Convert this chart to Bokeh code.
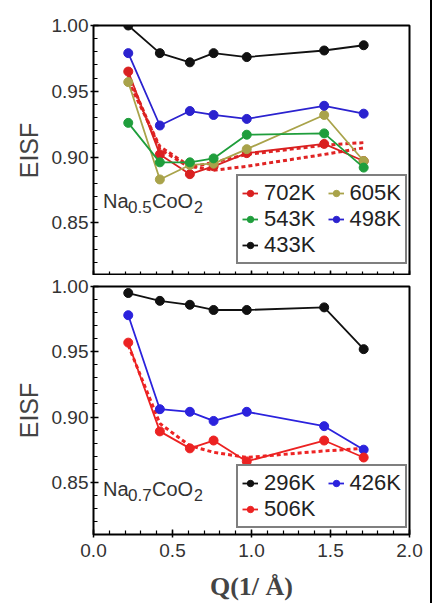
from bokeh.plotting import figure
from bokeh.layouts import column
from bokeh.models import (Legend, LegendItem, Label, Range1d, SingleIntervalTicker,
                          NumeralTickFormatter)
from bokeh.embed import file_html
from bokeh.resources import INLINE

# ---------------- data ----------------
q = [0.22, 0.42, 0.61, 0.76, 0.97, 1.46, 1.71]

# Na0.5CoO2
top_labels = ["702K", "605K", "543K", "498K", "433K"]
eisf_702 = [0.965, 0.902, 0.887, 0.893, 0.903, 0.910, 0.897]
eisf_605 = [0.957, 0.883, 0.894, 0.895, 0.906, 0.932, 0.897]
eisf_543 = [0.926, 0.896, 0.896, 0.899, 0.917, 0.918, 0.892]
eisf_498 = [0.979, 0.924, 0.935, 0.932, 0.929, 0.939, 0.933]
eisf_433 = [1.000, 0.979, 0.972, 0.979, 0.976, 0.981, 0.985]
fit_top_a = [0.962, 0.906, 0.892, 0.896, 0.902, 0.909, 0.911]
fit_top_b = [0.958, 0.908, 0.893, 0.890, 0.893, 0.902, 0.907]

# Na0.7CoO2
bot_labels = ["296K", "426K", "506K"]
eisf_296 = [0.995, 0.989, 0.986, 0.982, 0.982, 0.984, 0.952]
eisf_426 = [0.978, 0.906, 0.904, 0.897, 0.904, 0.893, 0.875]
eisf_506 = [0.957, 0.889, 0.876, 0.882, 0.866, 0.882, 0.869]
fit_bot = [0.955, 0.895, 0.878, 0.873, 0.869, 0.874, 0.876]

x_ticks = [0.0, 0.5, 1.0, 1.5, 2.0]

FONT = "Liberation Sans"
PAD = "  "  # gap between the two legend columns


def make_panel(bottom):
    if bottom:
        p = figure(output_backend="svg", toolbar_location=None, width=430, height=328,
                   x_range=Range1d(0.0, 2.0), y_range=Range1d(0.81, 1.0),
                   min_border_left=93, min_border_right=21,
                   min_border_top=11, min_border_bottom=65)
    else:
        p = figure(output_backend="svg", toolbar_location=None, width=430, height=275,
                   x_range=Range1d(0.0, 2.0), y_range=Range1d(0.81, 1.0),
                   min_border_left=93, min_border_right=21,
                   min_border_top=25, min_border_bottom=0)
    p.grid.visible = False
    p.outline_line_color = "black"
    p.outline_line_width = 2
    p.outline_line_alpha = 1
    p.background_fill_color = "white"
    p.border_fill_color = "white"

    p.yaxis.ticker = SingleIntervalTicker(interval=0.05, num_minor_ticks=5)
    p.xaxis.ticker = SingleIntervalTicker(interval=0.5, num_minor_ticks=5)
    p.yaxis.formatter = NumeralTickFormatter(format="0.00")
    p.xaxis.formatter = NumeralTickFormatter(format="0.0")
    for ax in (p.xaxis[0], p.yaxis[0]):
        ax.axis_line_color = None
        ax.major_tick_line_color = "black"
        ax.minor_tick_line_color = "black"
        ax.major_tick_line_width = 1.5
        ax.minor_tick_line_width = 1.2
        ax.major_tick_in = 5
        ax.major_tick_out = 3
        ax.minor_tick_in = 4
        ax.minor_tick_out = 0
        ax.major_label_text_font = FONT
        ax.major_label_text_font_size = "19px"
        ax.major_label_text_color = "#333333"
    p.yaxis.major_label_standoff = 2
    p.yaxis.axis_label = "EISF"
    p.yaxis.axis_label_text_font = FONT
    p.yaxis.axis_label_text_font_style = "normal"
    p.yaxis.axis_label_text_font_size = "25px"
    p.yaxis.axis_label_standoff = 6
    if bottom:
        p.xaxis.major_label_standoff = 6
        p.xaxis.axis_label = "Q(1/ Å)"
        p.xaxis.axis_label_text_font = "Liberation Serif"
        p.xaxis.axis_label_text_font_style = "bold"
        p.xaxis.axis_label_text_font_size = "26px"
        p.xaxis.axis_label_standoff = 12
    else:
        p.xaxis.major_label_overrides = {t: "" for t in x_ticks}
        p.xaxis.major_label_standoff = 0
        p.xaxis.major_tick_out = 0
    return p


def series(p, y, color, lw=1.8):
    r1 = p.line(q, y, line_color=color, line_width=lw)
    r2 = p.scatter(q, y, marker="circle", size=9, fill_color=color, line_color=color)
    return [r1, r2]


def fit(p, y, color):
    p.line(q, y, line_color=color, line_width=3, line_dash="4 3")


def formula(p, x, y, sub):
    parts = [("Na", 0, 0, "20px"), (sub, 25, -6, "17px"), ("CoO", 49, 0, "20px"), ("2", 91, -6, "16px")]
    for txt, dx, dy, fs in parts:
        p.add_layout(Label(x=x, y=y, x_offset=dx, y_offset=dy, text=txt,
                           text_font=FONT, text_font_size=fs, text_color="#333333",
                           text_baseline="alphabetic"))


def style_legend(lg):
    lg.label_text_font = FONT
    lg.label_text_font_size = "22px"
    lg.label_text_color = "#222222"
    lg.border_line_color = "black"
    lg.border_line_width = 2
    lg.background_fill_alpha = 1
    lg.glyph_width = 16
    lg.glyph_height = 20
    lg.label_height = 20
    lg.label_standoff = 6
    lg.spacing = 0
    lg.padding = 4
    lg.margin = 0


# ---------------- top panel ----------------
p1 = make_panel(False)
fit(p1, fit_top_a, "#e02424")
fit(p1, fit_top_b, "#e02424")
r702 = series(p1, eisf_702, "#d92020")
r605 = series(p1, eisf_605, "#a9a34a")
r543 = series(p1, eisf_543, "#1f9e3c")
r498 = series(p1, eisf_498, "#2b22cf")
r433 = series(p1, eisf_433, "#111111")
lg1 = Legend(items=[LegendItem(label=top_labels[0] + PAD, renderers=r702),
                    LegendItem(label=top_labels[2] + PAD, renderers=r543),
                    LegendItem(label=top_labels[4] + PAD, renderers=r433),
                    LegendItem(label=top_labels[1], renderers=r605),
                    LegendItem(label=top_labels[3], renderers=r498)],
             location=(143, 11), orientation="vertical", nrows=3)
style_legend(lg1)
p1.add_layout(lg1)
formula(p1, 0.06, 0.867, "0.5")

# ---------------- bottom panel ----------------
p2 = make_panel(True)
fit(p2, fit_bot, "#ee2424")
r296 = series(p2, eisf_296, "#111111")
r426 = series(p2, eisf_426, "#2b22dd")
r506 = series(p2, eisf_506, "#ec2222")
lg2 = Legend(items=[LegendItem(label=bot_labels[0] + PAD, renderers=r296),
                    LegendItem(label=bot_labels[2] + PAD, renderers=r506),
                    LegendItem(label=bot_labels[1], renderers=r426)],
             location=(143, 6), orientation="vertical", nrows=2)
style_legend(lg2)
p2.add_layout(lg2)
formula(p2, 0.06, 0.845, "0.7")

layout = column(p1, p2, spacing=0, styles={"border-right": "2px solid black"})
open("out.html", "w").write(file_html(layout, INLINE))
